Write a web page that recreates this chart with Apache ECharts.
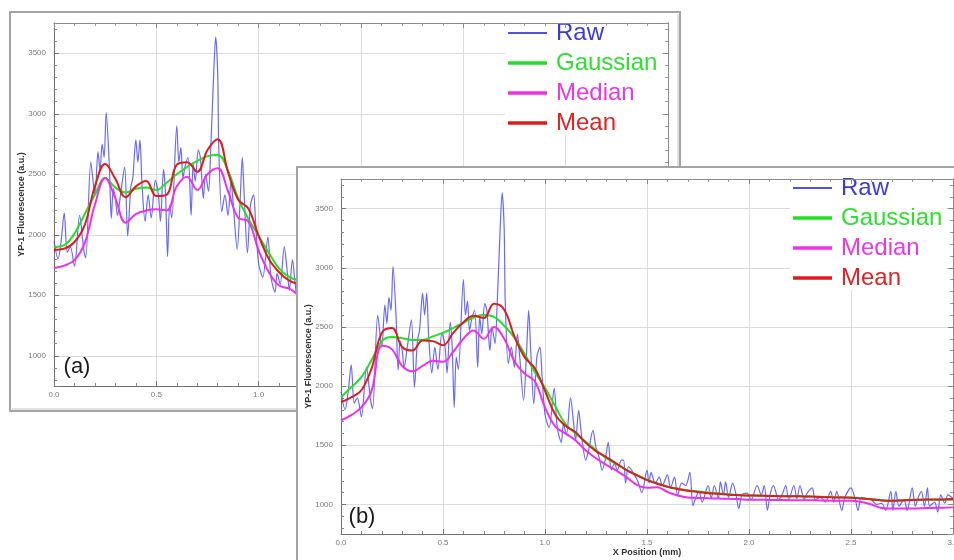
<!DOCTYPE html>
<html>
<head>
<meta charset="utf-8">
<script src="https://cdn.jsdelivr.net/npm/echarts@6/dist/echarts.min.js"></script>
<style>
html,body{margin:0;padding:0;background:#fff;}
#chart{width:954px;height:560px;}
</style>
</head>
<body>
<div id="chart"></div>
<script>
// ---------- DATA ----------
const seriesNames = ['Raw', 'Gaussian', 'Median', 'Mean'];
const xAxisName = 'X Position (mm)';
const yAxisName = 'YP-1 Fluorescence (a.u.)';
const panelLabels = ['(a)', '(b)'];

// Raw profile: [position mm, fluorescence]
const rawSamples = [
  [0.00,1950],[0.02,1800],[0.035,1950],[0.05,2180],[0.065,1855],[0.08,1900],[0.10,1740],[0.125,2160],
  [0.145,1880],[0.155,1810],[0.18,2600],[0.20,2330],[0.215,2685],[0.225,2530],[0.235,2750],[0.245,2640],
  [0.255,3010],[0.27,2585],[0.28,2135],[0.29,2380],[0.30,2300],[0.31,2160],[0.325,2330],[0.345,2560],
  [0.36,1990],[0.375,2390],[0.385,2470],[0.40,2785],[0.41,2600],[0.42,2785],[0.43,2415],[0.445,2110],
  [0.46,2330],[0.475,2140],[0.495,2450],[0.51,2330],[0.52,2110],[0.535,2540],[0.545,2330],[0.555,1820],
  [0.565,2245],[0.575,2140],[0.60,2900],[0.61,2600],[0.62,2720],[0.63,2470],[0.64,2560],[0.655,2640],
  [0.67,2160],[0.68,2590],[0.69,2440],[0.705,2700],[0.715,2640],[0.73,2300],[0.74,2500],[0.755,2360],
  [0.765,2670],[0.78,3320],[0.79,3635],[0.80,3320],[0.805,2720],[0.82,2190],[0.835,2330],[0.85,2160],
  [0.865,2440],[0.875,2270],[0.895,1880],[0.91,2300],[0.92,2640],[0.93,2300],[0.945,1850],[0.96,2245],
  [0.975,2330],[0.985,2100],[1.00,1760],[1.02,1650],[1.045,1980],[1.06,1650],[1.08,1525],[1.09,1680],
  [1.105,1590],[1.125,1900],[1.14,1690],[1.15,1540],[1.165,1795],[1.18,1570],[1.20,1373],[1.215,1470],
  [1.235,1625],[1.25,1480],[1.265,1400],[1.28,1290],[1.295,1375],[1.31,1525],[1.325,1290],[1.34,1345],
  [1.355,1290],[1.375,1375],[1.385,1375],[1.395,1180],[1.41,1320],[1.435,1260],[1.455,1195],[1.475,1100],
  [1.50,1290],[1.51,1180],[1.52,1270],[1.54,1180],[1.56,1230],[1.575,1160],[1.60,1250],[1.615,1140],
  [1.635,1230],[1.65,1076],[1.67,1180],[1.69,1160],[1.71,1270],[1.725,990],[1.74,1060],[1.755,1110],
  [1.77,1020],[1.80,1160],[1.815,1050],[1.83,1160],[1.85,1050],[1.86,1190],[1.875,1080],[1.885,1190],
  [1.90,1060],[1.92,1180],[1.935,1095],[1.95,965],[1.965,1080],[1.99,1095],[2.01,1040],[2.04,1160],
  [2.06,1080],[2.075,1160],[2.09,950],[2.105,1095],[2.12,1160],[2.145,1040],[2.165,1095],[2.18,1160],
  [2.195,1040],[2.22,1160],[2.235,1050],[2.25,1160],[2.27,1040],[2.285,1095],[2.31,1140],[2.325,1040],
  [2.35,1060],[2.375,1020],[2.40,1110],[2.415,1020],[2.43,1110],[2.455,950],[2.47,1060],[2.50,1140],
  [2.52,1050],[2.535,950],[2.55,1060],[2.575,1050],[2.60,1040],[2.625,1000],[2.65,1010],[2.67,950],
  [2.695,1110],[2.705,950],[2.72,1110],[2.735,985],[2.76,1040],[2.775,950],[2.80,1140],[2.815,985],
  [2.83,1060],[2.845,1110],[2.86,985],[2.875,1140],[2.885,985],[2.91,1020],[2.925,935],[2.94,1080],
  [2.96,1010],[2.975,1080],[3.00,1050]
];

// Panel (b) smoothed curves, sampled every 0.05 mm
const posB = [0,0.05,0.1,0.15,0.2,0.25,0.3,0.35,0.4,0.45,0.5,0.55,0.6,0.65,0.7,0.75,0.8,0.85,0.9,0.95,
  1,1.05,1.1,1.15,1.2,1.25,1.3,1.35,1.4,1.45,1.5,1.55,1.6,1.65,1.7,1.75,1.8,1.85,1.9,1.95,
  2,2.05,2.1,2.15,2.2,2.25,2.3,2.35,2.4,2.45,2.5,2.55,2.6,2.65,2.7,2.75,2.8,2.85,2.9,2.95,3];
const gaussB = [1905,1990,2075,2220,2380,2415,2405,2390,2390,2420,2450,2490,2535,2580,2600,2585,2510,2410,2270,2120,
  1985,1830,1680,1600,1530,1460,1390,1340,1290,1250,1210,1180,1150,1135,1120,1110,1100,1095,1085,1080,
  1075,1075,1072,1070,1070,1068,1066,1064,1062,1060,1058,1052,1045,1035,1030,1035,1040,1040,1040,1040,1040];
const medianB = [1710,1755,1820,1960,2340,2310,2170,2125,2170,2215,2205,2290,2400,2470,2400,2500,2400,2210,2105,2040,
  1820,1660,1600,1540,1455,1390,1335,1285,1230,1165,1140,1145,1105,1075,1058,1055,1052,1050,1047,1045,
  1040,1040,1038,1037,1036,1036,1035,1034,1032,1031,1030,1020,1000,970,965,965,965,968,970,972,975];
const meanB = [1865,1905,1965,2150,2450,2490,2330,2300,2385,2380,2345,2450,2540,2595,2575,2695,2645,2420,2245,2150,
  1960,1760,1665,1610,1520,1450,1400,1345,1290,1245,1205,1175,1150,1130,1115,1105,1095,1090,1082,1078,
  1075,1074,1072,1070,1070,1068,1066,1063,1060,1058,1056,1050,1042,1034,1030,1034,1038,1040,1042,1042,1045];

// Panel (a) smoothed curves (stronger weighting), sampled every 0.05 mm
const posA = [0,0.05,0.1,0.15,0.2,0.25,0.3,0.35,0.4,0.45,0.5,0.55,0.6,0.65,0.7,0.75,0.8,0.85,0.9,0.95,1,1.05,1.1,1.15,1.2,1.25];
const gaussA = [1900,1915,2010,2170,2330,2470,2390,2350,2380,2390,2370,2430,2500,2560,2610,2650,2660,2530,2300,2130,1990,1850,1720,1650,1620,1590];
const medianA = [1725,1745,1790,1930,2250,2470,2300,2100,2170,2200,2210,2200,2400,2480,2370,2500,2550,2360,2140,2110,1870,1690,1580,1555,1500,1480];
const meanA = [1875,1885,1940,2080,2400,2585,2460,2310,2400,2445,2320,2330,2580,2600,2520,2700,2790,2520,2290,2215,1990,1800,1690,1620,1590,1560];

// ---------- STYLE ----------
const colors = {Raw:'#5050ee', Gaussian:'#22e022', Median:'#ee30ee', Mean:'#dd1c1c'};
const legendTextColors = {Raw:'#3a3ad6', Gaussian:'#2ee02e', Median:'#e838e8', Mean:'#e02222'};
const FONT = 'Liberation Sans, Arial, sans-serif';

const pair = (pos, vals) => pos.map((x, i) => [x, vals[i]]);

function mainX(gridIndex, zl) {
  return {
    type:'value', gridIndex, min:0, max:3, interval:0.5, zlevel:zl, z:0,
    name:xAxisName, nameLocation:'middle', nameGap:14, nameMoveOverlap:false,
    nameTextStyle:{fontFamily:FONT, fontSize:9, fontWeight:'bold', color:'#333'},
    axisLine:{show:true, onZero:false, lineStyle:{color:'#6e6e6e', width:1}},
    axisTick:{show:true, inside:true, length:5, lineStyle:{color:'#777'}},
    minorTick:{show:true, splitNumber:5, length:3, lineStyle:{color:'#888'}},
    axisLabel:{fontFamily:FONT, fontSize:8, color:'#7a7a7a', margin:5, formatter:v=>v.toFixed(1), hideOverlap:false},
    splitLine:{show:true, lineStyle:{color:'#dcdcdc', width:1}}
  };
}
function mirrorX(gridIndex, zl) {
  return {
    type:'value', gridIndex, min:0, max:3, interval:0.5, position:'top', zlevel:zl, z:6,
    axisLine:{show:true, onZero:false, lineStyle:{color:'#8a8a8a', width:1}},
    axisTick:{show:true, inside:true, length:5, lineStyle:{color:'#888'}},
    minorTick:{show:true, splitNumber:5, length:3, lineStyle:{color:'#999'}},
    axisLabel:{show:false}, splitLine:{show:false}
  };
}
function mainY(gridIndex, zl) {
  return {
    type:'value', gridIndex, min:750, max:3750, splitNumber:6, zlevel:zl, z:0,
    name:yAxisName, nameLocation:'middle', nameGap:28, nameRotate:90, nameMoveOverlap:false,
    nameTextStyle:{fontFamily:FONT, fontSize:9, fontWeight:'bold', color:'#333'},
    axisLine:{show:true, onZero:false, lineStyle:{color:'#6e6e6e', width:1}},
    axisTick:{show:true, inside:true, length:5, lineStyle:{color:'#777'}},
    minorTick:{show:true, splitNumber:5, length:3, lineStyle:{color:'#888'}},
    axisLabel:{fontFamily:FONT, fontSize:8, color:'#7a7a7a', margin:8,
      formatter:v => (v % 500 === 0 ? String(v) : '')},
    splitLine:{show:true, lineStyle:{color:'#dcdcdc', width:1}}
  };
}
function mirrorY(gridIndex, zl) {
  return {
    type:'value', gridIndex, min:750, max:3750, splitNumber:6, position:'right', zlevel:zl, z:6,
    axisLine:{show:true, onZero:false, lineStyle:{color:'#8a8a8a', width:1}},
    axisTick:{show:true, inside:true, length:5, lineStyle:{color:'#888'}},
    minorTick:{show:true, splitNumber:5, length:3, lineStyle:{color:'#999'}},
    axisLabel:{show:false}, splitLine:{show:false}
  };
}

function panelSeries(axisIdx, zl, gauss, median, mean, pos) {
  const base = {type:'line', xAxisIndex:axisIdx, yAxisIndex:axisIdx, zlevel:zl, showSymbol:false, symbol:'none', clip:true, silent:true};
  return [
    Object.assign({}, base, {name:'Raw', data:rawSamples, smooth:0.3, color:colors.Raw,
      lineStyle:{color:colors.Raw, width:1.2, opacity:0.85}, z:2}),
    Object.assign({}, base, {name:'Gaussian', data:pair(pos, gauss), smooth:0.4, color:colors.Gaussian,
      lineStyle:{color:colors.Gaussian, width:2}, z:3}),
    Object.assign({}, base, {name:'Median', data:pair(pos, median), smooth:0.4, color:colors.Median,
      lineStyle:{color:colors.Median, width:2}, z:4}),
    Object.assign({}, base, {name:'Mean', data:pair(pos, mean), smooth:0.4, color:colors.Mean,
      lineStyle:{color:colors.Mean, width:2}, z:5})
  ];
}

function makeLegend(left, top, zl) {
  return {
    orient:'vertical', left, top, zlevel:zl, z:4, selectedMode:false,
    backgroundColor:'#ffffff', padding:[0,4,0,3],
    itemWidth:39, itemHeight:4, itemGap:6, symbolKeepAspect:true,
    textStyle:{fontFamily:FONT, fontSize:24, lineHeight:24, padding:[0,0,0,4]},
    data: seriesNames.map(n => ({
      name:n,
      icon: n === 'Raw' ? 'path://M0,0L40,0L40,2.2L0,2.2Z' : 'path://M0,0L40,0L40,3.6L0,3.6Z',
      textStyle:{color:legendTextColors[n]}
    }))
  };
}

const chart = echarts.init(document.getElementById('chart'), null, {renderer:'canvas'});
chart.setOption({
  backgroundColor:'#ffffff',
  animation:false,
  grid:[
    {left:54, top:23, width:614, height:363, zlevel:0, show:true, backgroundColor:'#fff', borderWidth:0,
      containLabel:false, outerBoundsMode:'none'},
    {left:341, top:179, width:612, height:355, zlevel:2, show:true, backgroundColor:'#fff', borderWidth:0,
      containLabel:false, outerBoundsMode:'none'}
  ],
  xAxis:[mainX(0,0), mirrorX(0,0), mainX(1,2), mirrorX(1,2)],
  yAxis:[mainY(0,0), mirrorY(0,0), mainY(1,2), mirrorY(1,2)],
  legend:[makeLegend(505, 21, 0), makeLegend(790, 176, 2)],
  series:[].concat(
    panelSeries(0, 0, gaussA, medianA, meanA, posA),
    panelSeries(2, 2, gaussB, medianB, meanB, posB)
  ),
  graphic:{elements:[
    // panel (a) frame
    {type:'rect', zlevel:0, z:10, silent:true, shape:{x:10, y:12, width:670, height:399},
      style:{fill:'none', stroke:'#a4a4a4', lineWidth:2}},
    {type:'polyline', zlevel:0, z:10, silent:true, shape:{points:[[678,14],[678,409],[12,409]]},
      style:{fill:'none', stroke:'#c4c4c4', lineWidth:1}},
    {type:'text', zlevel:0, z:10, silent:true, x:77, y:367,
      style:{text:panelLabels[0], font:'22px Liberation Sans, Arial, sans-serif', fill:'#1a1a1a', align:'center', verticalAlign:'middle'}},
    // panel (b) frame, drawn on top of panel (a)
    {type:'rect', zlevel:1, z:0, silent:true, shape:{x:297, y:167, width:720, height:460},
      style:{fill:'#ffffff', stroke:'#a4a4a4', lineWidth:2}},
    {type:'text', zlevel:2, z:10, silent:true, x:362, y:517,
      style:{text:panelLabels[1], font:'22px Liberation Sans, Arial, sans-serif', fill:'#1a1a1a', align:'center', verticalAlign:'middle'}}
  ]}
});
</script>
</body>
</html>
